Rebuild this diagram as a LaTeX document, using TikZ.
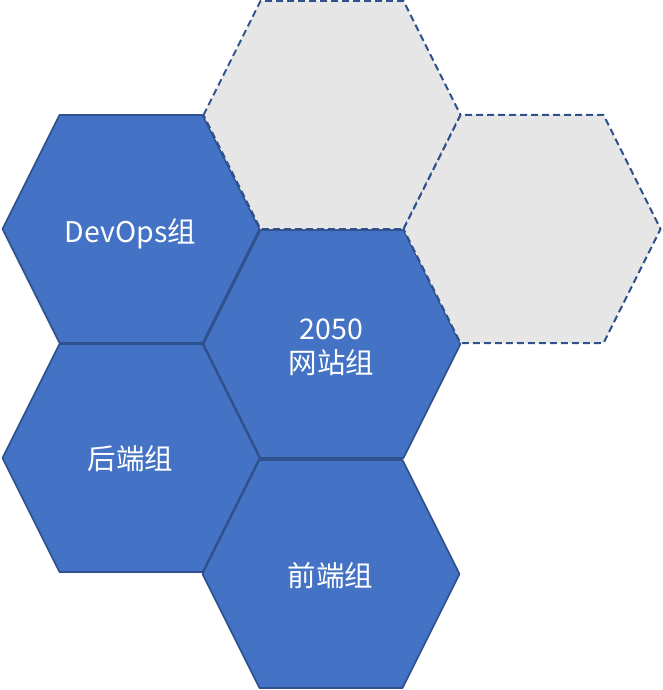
\documentclass[tikz,border=0pt]{standalone}
\usepackage{fontspec}
\setmainfont{Noto Sans CJK SC}
\definecolor{hexblue}{HTML}{4472C4}
\definecolor{hexedge}{HTML}{2F528F}
\definecolor{hexgray}{HTML}{E6E6E6}
\newcommand{\hexcell}[3]
{
\coordinate (#1) at (#2);
\draw[#3] (#1) ++(-128,0) -- ++(57,-114) -- ++(143,0) -- ++(57,114) -- ++(-57,114) -- ++(-143,0) -- cycle;
}

\begin{document}
\begin{tikzpicture}[
  x=1pt, y=-1pt,
  team/.style={fill=hexblue, draw=hexedge, line width=1.6pt, line join=round},
  spare/.style={fill=hexgray, draw=hexedge, line width=2pt, dash pattern=on 7pt off 4pt, line join=round},
  hex text/.style={text=white, font=\fontsize{28.5}{34}\selectfont, align=center, inner sep=0pt}
  ]
  \useasboundingbox (0,0) rectangle (662,690);

  % team cells
  \hexcell{devops}{130.5,229}{team}
  \hexcell{backend}{130.5,458}{team}
  \hexcell{web}{331.5,344}{team}
  \hexcell{frontend}{330.5,574}{team}

  % empty cells
  \hexcell{spare top}{331.5,115}{spare}
  \hexcell{spare right}{531.5,229}{spare}

  \node[hex text] (devops label) at ([yshift=-5]devops) {DevOps组};
  \node[hex text] (backend label) at ([yshift=-1]backend) {后端组};
  \node[hex text] (web label) at ([yshift=-3]web) {2050\\网站组};
  \node[hex text] (frontend label) at ([yshift=-2]frontend) {前端组};
\end{tikzpicture}
\end{document}
